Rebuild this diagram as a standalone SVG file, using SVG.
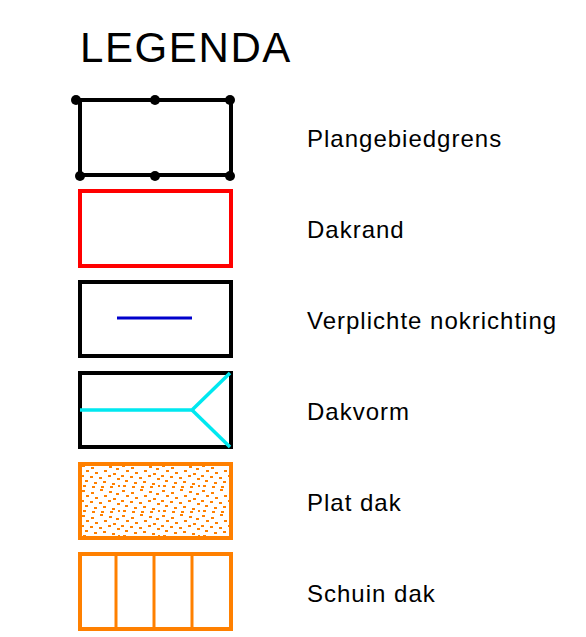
<svg xmlns="http://www.w3.org/2000/svg" width="586" height="637" viewBox="0 0 586 637">
<style>
text{font-family:"Liberation Sans",Arial,sans-serif;fill:#000}
.lbl{font-size:24px;letter-spacing:1px}
.box{fill:none;stroke-width:4}
.dot{fill:#000}
.or{stroke:#FF8000}
</style>
<defs>
<pattern id="speck" x="80" y="464" width="40" height="25" patternUnits="userSpaceOnUse">
<g fill="#FF8000">
<rect x="2" y="1" width="3" height="2"/><rect x="11" y="3" width="3" height="2"/><rect x="20" y="0" width="3" height="2"/><rect x="29" y="2" width="3" height="2"/><rect x="36" y="4" width="3" height="2"/>
<rect x="6" y="6" width="3" height="2"/><rect x="15" y="8" width="3" height="2"/><rect x="24" y="6" width="3" height="2"/><rect x="33" y="9" width="3" height="2"/>
<rect x="1" y="11" width="3" height="2"/><rect x="10" y="12" width="3" height="2"/><rect x="19" y="13" width="3" height="2"/><rect x="28" y="11" width="3" height="2"/><rect x="37" y="14" width="3" height="2"/>
<rect x="5" y="16" width="3" height="2"/><rect x="14" y="18" width="3" height="2"/><rect x="23" y="17" width="3" height="2"/><rect x="32" y="19" width="3" height="2"/>
<rect x="3" y="21" width="3" height="2"/><rect x="12" y="22" width="3" height="2"/><rect x="21" y="22" width="3" height="2"/><rect x="30" y="22" width="3" height="2"/><rect x="38" y="21" width="2" height="2"/>
</g>
</pattern>
</defs>
<rect width="586" height="637" fill="#fff"/>
<text x="80" y="62" font-size="42" letter-spacing="1.6">LEGENDA</text>

<g id="plangebiedgrens">
<rect class="box" x="80" y="100" width="151" height="75" stroke="#000"/>
<circle class="dot" cx="76" cy="100" r="5"/>
<circle class="dot" cx="155" cy="100" r="5"/>
<circle class="dot" cx="230" cy="100" r="5"/>
<circle class="dot" cx="80" cy="176" r="5"/>
<circle class="dot" cx="155" cy="176" r="5"/>
<circle class="dot" cx="230" cy="176" r="5"/>
<text class="lbl" x="307" y="146.5">Plangebiedgrens</text>
</g>

<g id="dakrand">
<rect class="box" x="80" y="191" width="151" height="75" stroke="#FF0000"/>
<text class="lbl" x="307" y="237.5">Dakrand</text>
</g>

<g id="nokrichting">
<rect class="box" x="80" y="282" width="151" height="74" stroke="#000"/>
<line x1="117" y1="318" x2="192" y2="318" stroke="#0000CC" stroke-width="3"/>
<text class="lbl" x="307" y="328.5">Verplichte nokrichting</text>
</g>

<g id="dakvorm">
<rect class="box" x="80" y="373" width="151" height="74" stroke="#000"/>
<polyline points="80,410 192,410 230,373" fill="none" stroke="#00E8F0" stroke-width="3.5"/>
<line x1="192" y1="410" x2="230" y2="447" stroke="#00E8F0" stroke-width="3.5"/>
<text class="lbl" x="307" y="419.5">Dakvorm</text>
</g>

<g id="platdak">
<rect x="80" y="464" width="151" height="74" fill="url(#speck)"/>
<rect class="box or" x="80" y="464" width="151" height="74"/>
<text class="lbl" x="307" y="510.5">Plat dak</text>
</g>

<g id="schuindak">
<rect class="box or" x="80" y="554" width="151" height="75"/>
<line class="or" x1="116" y1="554" x2="116" y2="629" stroke-width="3"/>
<line class="or" x1="154" y1="554" x2="154" y2="629" stroke-width="3"/>
<line class="or" x1="192" y1="554" x2="192" y2="629" stroke-width="3"/>
<text class="lbl" x="307" y="601.5">Schuin dak</text>
</g>
</svg>
